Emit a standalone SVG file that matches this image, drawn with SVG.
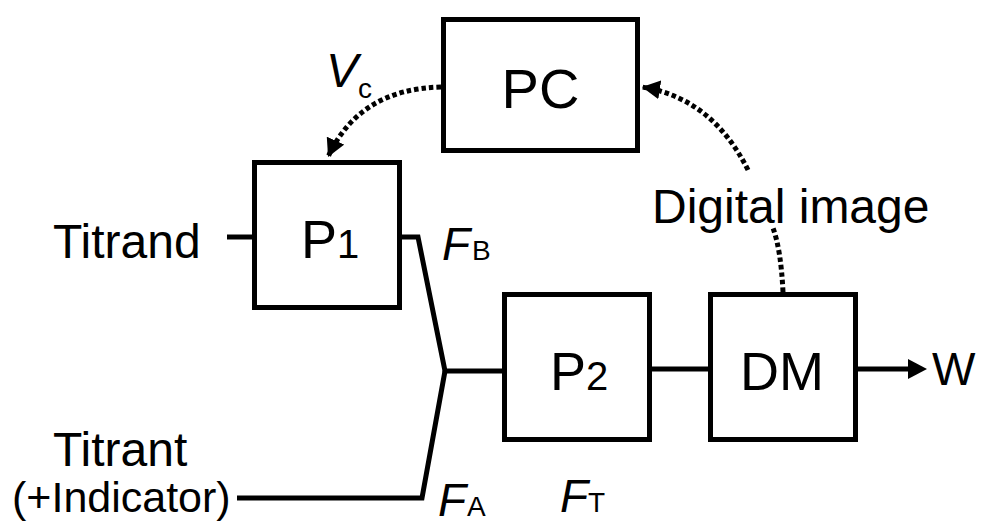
<svg xmlns="http://www.w3.org/2000/svg" width="981" height="522" viewBox="0 0 981 522">
<style>
text{font-family:"Liberation Sans",Arial,sans-serif;fill:#000}
.box{fill:#fff;stroke:#000;stroke-width:5}
.ln{fill:none;stroke:#000;stroke-width:5;stroke-linejoin:miter}
.dot{fill:none;stroke:#000;stroke-width:5;stroke-dasharray:4.5 3}
.it{font-style:italic}
</style>
<defs>
<marker id="ah" markerUnits="userSpaceOnUse" markerWidth="20" markerHeight="20" refX="18" refY="9.5" orient="auto">
<path d="M0,0 L18,9.5 L0,19 z" fill="#000"/>
</marker>
</defs>
<rect width="981" height="522" fill="#fff"/>
<g id="connectors">
<path class="ln" d="M227,237 H254"/>
<path class="ln" d="M402,237 H418 L445,371 H503"/>
<path class="ln" d="M237,498 H422 L445,371"/>
<path class="ln" d="M652,369 H708"/>
<path class="ln" d="M858,369 H910" />
<path d="M908,359 L927,369 L908,379 z" fill="#000"/>
<path class="dot" d="M441,87 Q359,89 328,157" marker-end="url(#ah)"/>
<path class="dot" d="M783,292 Q781,250 773,228"/>
<path class="dot" d="M748,170 Q712,98 642,87" marker-end="url(#ah)"/>
</g>
<g id="PC">
<rect class="box" x="443.5" y="19.5" width="194" height="131"/>
<text x="540.5" y="108" font-size="56" text-anchor="middle">PC</text>
</g>
<g id="P1">
<rect class="box" x="254.5" y="162.5" width="145" height="145"/>
<text x="301" y="258" font-size="54">P<tspan font-size="40">1</tspan></text>
</g>
<g id="P2">
<rect class="box" x="504.5" y="294.5" width="145" height="145"/>
<text x="550" y="390" font-size="54">P<tspan font-size="40">2</tspan></text>
</g>
<g id="DM">
<rect class="box" x="710.5" y="294.5" width="145" height="145"/>
<text x="782" y="390" font-size="54" text-anchor="middle">DM</text>
</g>
<g id="labels">
<text x="53" y="258" font-size="48">Titrand</text>
<text x="53" y="466" font-size="48">Titrant</text>
<text x="12" y="512" font-size="43">(+Indicator)</text>
<text x="932" y="385" font-size="46">W</text>
<text x="652" y="223" font-size="48">Digital image</text>
<text x="326" y="87" font-size="48"><tspan class="it">V</tspan><tspan font-size="28" dx="0" dy="11">c</tspan></text>
<text x="442" y="260" font-size="46"><tspan class="it">F</tspan><tspan font-size="28" dx="2">B</tspan></text>
<text x="438" y="516" font-size="46"><tspan class="it">F</tspan><tspan font-size="28" dx="1">A</tspan></text>
<text x="560" y="512" font-size="46"><tspan class="it">F</tspan><tspan font-size="28" dx="0">T</tspan></text>
</g>
</svg>
